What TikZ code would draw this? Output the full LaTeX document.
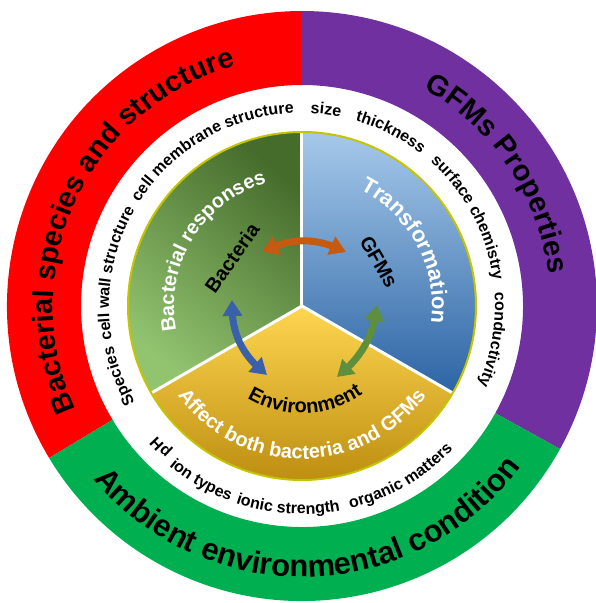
\documentclass[tikz,border=0pt]{standalone}
\usepackage{fontspec}
\setmainfont{Liberation Sans}
\usetikzlibrary{arrows.meta,bending,decorations.text}

\definecolor{ringred}{HTML}{FF0000}
\definecolor{ringpurple}{HTML}{7030A0}
\definecolor{ringgreen}{HTML}{00B050}
\definecolor{pieedge}{HTML}{C4C400}
\definecolor{arrorange}{HTML}{C55A11}
\definecolor{arrblue}{HTML}{3A5FAB}
\definecolor{arrgreen}{HTML}{5E8F3C}

\newcommand\ringfont{\bfseries\fontsize{29}{29}\selectfont}
\newcommand\bigringfont{\bfseries\fontsize{31}{31}\selectfont}
\newcommand\itemfont{\bfseries\fontsize{16}{16}\selectfont}
\newcommand\piefont{\bfseries\fontsize{20}{20}\selectfont}
\newcommand\keyfont{\bfseries\fontsize{20}{20}\selectfont}

\begin{document}
\begin{tikzpicture}[
  x=1pt, y=1pt,
  ringtxt/.style={decorate, decoration={text along path, text align=center,
    text color=black, text={|\ringfont|#1}}},
  itemtxt/.style={decorate, decoration={text along path, text align=center,
    text color=black, text={|\itemfont|#1}}},
  pietxt/.style={decorate, decoration={text along path, text align=center,
    text color=white, text={|\piefont|#1}}},
  lbl/.style={font=\keyfont, inner sep=1pt},
  divider/.style={white, line width=3pt},
  dblarr/.style={line width=7pt,
    {Triangle[length=16pt,width=19pt]}-{Triangle[length=16pt,width=19pt]}}
]
\useasboundingbox (-302,-297) rectangle (293,306);

% outer ring, three parts
\fill[ringred] (90:221) arc[start angle=90, end angle=211, radius=221]
  -- (211:295) arc[start angle=211, end angle=90, radius=295] -- cycle;
\fill[ringpurple] (-29:221) arc[start angle=-29, end angle=90, radius=221]
  -- (90:295) arc[start angle=90, end angle=-29, radius=295] -- cycle;
\fill[ringgreen] (211:221) arc[start angle=211, end angle=331, radius=221]
  -- (331:295) arc[start angle=331, end angle=211, radius=295] -- cycle;

% inner pie
\shade[top color={rgb,255:red,70;green,108;blue,44},
  bottom color={rgb,255:red,146;green,196;blue,112}, shading angle=-40]
  (0,0) -- (90:174) arc[start angle=90, end angle=210, radius=174] -- cycle;
\shade[top color={rgb,255:red,166;green,201;blue,234},
  bottom color={rgb,255:red,44;green,100;blue,164}]
  (0,0) -- (-30:174) arc[start angle=-30, end angle=90, radius=174] -- cycle;
\shade[top color={rgb,255:red,255;green,214;blue,80},
  middle color={rgb,255:red,252;green,190;blue,10},
  bottom color={rgb,255:red,180;green,132;blue,8}]
  (0,0) -- (210:174) arc[start angle=210, end angle=330, radius=174] -- cycle;
\foreach \a in {90,210,330}
  \draw[divider] (0,0) -- (\a:174);
\draw[pieedge, line width=2pt] (0,0) circle[radius=174];

% ring titles
\path[ringtxt={Bacterial species and structure}]
  (220:249) arc[start angle=220, end angle=90, radius=249];
\path[ringtxt={GFMs Properties}]
  (84:249) arc[start angle=84, end angle=-16, radius=249];
\path[decorate, decoration={text along path, text align=center,
  text color=black, text={|\bigringfont|Ambient environmental condition}}]
  (195:271) arc[start angle=195, end angle=348.4, radius=271];

% factors in the white ring
\path[itemtxt={size}] (113:193) arc[start angle=113, end angle=53, radius=193];
\path[itemtxt={thickness}] (93:193) arc[start angle=93, end angle=33, radius=193];
\path[itemtxt={surface chemistry}] (63:193) arc[start angle=63, end angle=-7, radius=193];
\path[itemtxt={conductivity}] (20:193) arc[start angle=20, end angle=-40, radius=193];
\path[itemtxt={cell membrane structure}] (160:193) arc[start angle=160, end angle=80, radius=193];
\path[itemtxt={cell wall structure}] (205:193) arc[start angle=205, end angle=135, radius=193];
\path[itemtxt={Species}] (231:193) arc[start angle=231, end angle=171, radius=193];
\path[itemtxt={pH}] (255:195) arc[start angle=255, end angle=195, radius=195];
\path[itemtxt={ion types}] (210:208) arc[start angle=210, end angle=270, radius=208];
\path[itemtxt={ionic strength}] (231:208) arc[start angle=231, end angle=301, radius=208];
\path[itemtxt={organic matters}] (265:208) arc[start angle=265, end angle=335, radius=208];

% pie captions
\path[pietxt={Bacterial responses}]
  (208.5:128) arc[start angle=208.5, end angle=88.5, radius=128];
\path[pietxt={|\bfseries\fontsize{22}{22}\selectfont|Transformation}]
  (78:130) arc[start angle=78, end angle=-22, radius=130];
\path[pietxt={Affect both bacteria and GFMs}]
  (200:153) arc[start angle=200, end angle=340, radius=153];

% the three actors
\node[lbl, rotate=55] (bact) at (-70,48) {Bacteria};
\node[lbl, rotate=-60] (gfms) at (77,44) {GFMs};
\path[decorate, decoration={text along path, text align=center,
  text color=black, text={|\keyfont|Environment}}]
  (200:107) arc[start angle=200, end angle=344, radius=107];

\coordinate (bg-l) at (-40,54);
\coordinate (bg-r) at (44,54);
\coordinate (be-t) at (-70,6);
\coordinate (be-b) at (-35,-69);
\coordinate (ge-t) at (75,1);
\coordinate (ge-b) at (35,-71);
\draw[dblarr, arrorange] (bg-l) to[bend left=27] (bg-r);
\draw[dblarr, arrblue] (be-t) to[bend right=27] (be-b);
\draw[dblarr, arrgreen] (ge-t) to[bend left=22] (ge-b);
\end{tikzpicture}
\end{document}
